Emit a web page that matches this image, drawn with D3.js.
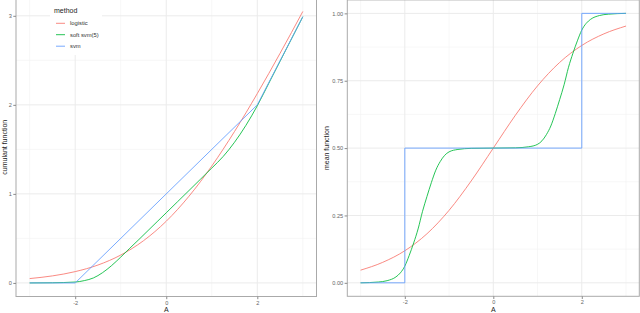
<!DOCTYPE html>
<html>
<head>
<meta charset="utf-8">
<script src="https://cdn.jsdelivr.net/npm/d3@7"></script>
<style>
  html, body { margin: 0; padding: 0; background: #fff; }
  svg { display: block; font-family: "Liberation Sans", Arial, sans-serif; }
</style>
</head>
<body>
<div id="chart"></div>
<script>
// series names and colours (ggplot default hue)
const methods = ['logistic', 'soft svm(5)', 'svm'];
const colors = ['#F8766D', '#00BA38', '#619CFF'];

// logistic
const aLogistic = [-3, -2.5, -2, -1.5, -1, -0.5, 0, 0.5, 1, 1.5, 2, 2.5, 3];
const cumLogistic = [0.049, 0.079, 0.127, 0.201, 0.313, 0.474, 0.693, 0.974, 1.313, 1.701, 2.127, 2.579, 3.049];
const meanLogistic = [0.047, 0.076, 0.119, 0.182, 0.269, 0.378, 0.5, 0.622, 0.731, 0.818, 0.881, 0.924, 0.953];

// soft svm(5)
const aSoftCum = [-3, -2.5, -2, -1.8, -1.6, -1.4, -1.2, -1, -0.8, -0.6, -0.4, -0.2, 0, 0.25, 0.5, 0.75, 1, 1.25, 1.5, 1.75, 2, 2.25, 2.5, 2.75, 3];
const cumSoft = [0, 0.002, 0.01, 0.026, 0.056, 0.115, 0.195, 0.29, 0.39, 0.488, 0.588, 0.688, 0.788, 0.913, 1.038, 1.164, 1.29, 1.42, 1.58, 1.77, 1.99, 2.24, 2.49, 2.74, 2.99];
const aSoftMean = [-3, -2.6, -2.4, -2.2, -2.1, -2, -1.9, -1.8, -1.7, -1.6, -1.5, -1.4, -1.3, -1.2, -1.1, -1, -0.8, -0.5, 0,
                   0.5, 0.8, 1, 1.1, 1.2, 1.3, 1.4, 1.5, 1.6, 1.7, 1.8, 1.9, 2, 2.1, 2.2, 2.4, 2.6, 3];
const meanSoft = [0, 0.003, 0.008, 0.022, 0.037, 0.062, 0.102, 0.148, 0.2, 0.265, 0.32, 0.372, 0.418, 0.45, 0.473, 0.486, 0.495, 0.499, 0.5,
                  0.501, 0.505, 0.514, 0.527, 0.55, 0.582, 0.628, 0.68, 0.735, 0.8, 0.852, 0.898, 0.938, 0.963, 0.978, 0.992, 0.997, 1];

// svm (piecewise)
const aSvmCum = [-3, -2, 2, 3];
const cumSvm = [0, 0, 2, 2.99];
const aSvmMean = [-3, -2, -2, 2, 2, 3];
const meanSvm = [0, 0, 0.5, 0.5, 1, 1];

const xTicks = [-2, 0, 2];
const xMinor = [-3, -1, 1, 3];

const width = 640, height = 313;

const svg = d3.select('#chart').append('svg')
  .attr('width', width)
  .attr('height', height);

svg.append('rect').attr('width', width).attr('height', height).attr('fill', '#fff');

function zip(xs, ys) {
  return xs.map((x, i) => ({x: x, y: ys[i]}));
}

function drawPanel(opts) {
  const x = d3.scaleLinear().domain([-3.3, 3.3]).range([opts.left, opts.right]);
  const y = d3.scaleLinear().domain(opts.yDomain).range([opts.bottom, opts.top]);
  const g = svg.append('g');

  // minor grid
  opts.yMinor.forEach(v => {
    g.append('line').attr('x1', opts.left).attr('x2', opts.right)
      .attr('y1', y(v)).attr('y2', y(v))
      .attr('stroke', '#f2f2f2').attr('stroke-width', 0.6);
  });
  xMinor.forEach(v => {
    g.append('line').attr('y1', opts.top).attr('y2', opts.bottom)
      .attr('x1', x(v)).attr('x2', x(v))
      .attr('stroke', '#f2f2f2').attr('stroke-width', 0.6);
  });
  // major grid
  opts.yTicks.forEach(v => {
    g.append('line').attr('x1', opts.left).attr('x2', opts.right)
      .attr('y1', y(v)).attr('y2', y(v))
      .attr('stroke', '#ebebeb').attr('stroke-width', 1);
  });
  xTicks.forEach(v => {
    g.append('line').attr('y1', opts.top).attr('y2', opts.bottom)
      .attr('x1', x(v)).attr('x2', x(v))
      .attr('stroke', '#ebebeb').attr('stroke-width', 1);
  });

  if (opts.legend) opts.legend(g);

  // lines
  opts.series.forEach((s, i) => {
    const line = d3.line()
      .x(d => x(d.x))
      .y(d => y(d.y))
      .curve(s.step ? d3.curveLinear : d3.curveMonotoneX);
    g.append('path')
      .datum(zip(s.a, s.v))
      .attr('d', line)
      .attr('fill', 'none')
      .attr('stroke', colors[i])
      .attr('stroke-opacity', 0.85)
      .attr('stroke-width', 1);
  });

  // border
  g.append('rect')
    .attr('x', opts.left).attr('y', opts.top)
    .attr('width', opts.right - opts.left).attr('height', opts.bottom - opts.top)
    .attr('fill', 'none').attr('stroke', '#aaaaaa').attr('stroke-width', 1);

  // axes
  const xAxis = d3.axisBottom(x).tickValues(xTicks).tickSize(2.7).tickPadding(1.5)
    .tickFormat(d => d);
  const xa = g.append('g').attr('transform', `translate(0,${opts.bottom})`).call(xAxis);
  const yAxis = d3.axisLeft(y).tickValues(opts.yTicks).tickSize(2.7).tickPadding(1.5)
    .tickFormat(opts.yFormat);
  const ya = g.append('g').attr('transform', `translate(${opts.left},0)`).call(yAxis);
  [xa, ya].forEach(a => {
    a.select('.domain').remove();
    a.selectAll('.tick line').attr('stroke', '#8a8a8a');
    a.selectAll('.tick text').attr('fill', '#666').attr('font-size', 5.6)
      .attr('font-family', '"Liberation Sans", Arial, sans-serif');
  });

  // titles
  g.append('text')
    .attr('x', (opts.left + opts.right) / 2).attr('y', 312)
    .attr('text-anchor', 'middle').attr('font-size', 7).attr('fill', '#222')
    .text('A');
  g.append('text')
    .attr('transform', `translate(${opts.yTitleX},${(opts.top + opts.bottom) / 2}) rotate(-90)`)
    .attr('text-anchor', 'middle').attr('font-size', 7).attr('fill', '#222')
    .text(opts.yTitle);
}

drawPanel({
  left: 16, right: 316.5, top: -2, bottom: 296.5,
  yDomain: [-0.1524, 3.2],
  yTicks: [0, 1, 2, 3],
  yMinor: [0.5, 1.5, 2.5],
  yFormat: d3.format('d'),
  yTitle: 'cumulant function',
  yTitleX: 6.5,
  series: [
    {a: aLogistic, v: cumLogistic},
    {a: aSoftCum, v: cumSoft},
    {a: aSvmCum, v: cumSvm, step: true}
  ],
  legend: function(g) {
    g.append('rect').attr('x', 50).attr('y', -2).attr('width', 52).attr('height', 57).attr('fill', '#fff');
    g.append('text').attr('x', 54).attr('y', 13.2).attr('font-size', 7).attr('fill', '#222').text('method');
    const rows = [23.3, 34.7, 46.2];
    methods.forEach((m, i) => {
      g.append('line').attr('x1', 56).attr('x2', 65).attr('y1', rows[i]).attr('y2', rows[i])
        .attr('stroke', colors[i]).attr('stroke-opacity', 0.85).attr('stroke-width', 1);
      g.append('text').attr('x', 70).attr('y', rows[i] + 2).attr('font-size', 5.8).attr('fill', '#333').text(m);
    });
  }
});

drawPanel({
  left: 347.3, right: 639.3, top: -0.1, bottom: 296.3,
  yDomain: [-0.05, 1.05],
  yTicks: [0, 0.25, 0.5, 0.75, 1],
  yMinor: [0.125, 0.375, 0.625, 0.875],
  yFormat: d3.format('.2f'),
  yTitle: 'mean function',
  yTitleX: 328.5,
  series: [
    {a: aLogistic, v: meanLogistic},
    {a: aSoftMean, v: meanSoft},
    {a: aSvmMean, v: meanSvm, step: true}
  ]
});
</script>
</body>
</html>
